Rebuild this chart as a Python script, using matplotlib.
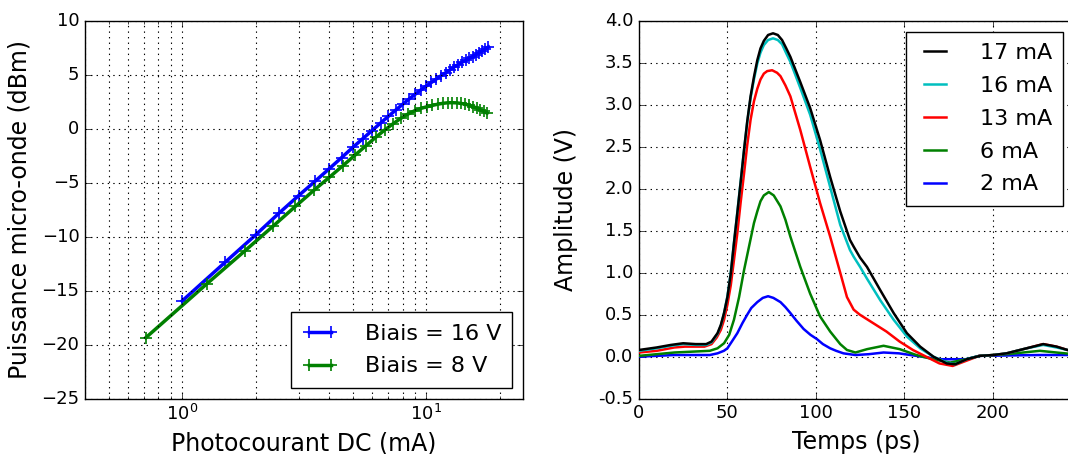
import matplotlib
matplotlib.use("Agg")
from matplotlib import pyplot as plt
from matplotlib.ticker import NullFormatter, FormatStrFormatter

# --- left panel: microwave power vs DC photocurrent ---
i_16v = [1.0, 1.5, 2.0, 2.5, 3.0, 3.5, 4.0, 4.5, 5.0, 5.5, 6.0, 6.5, 7.0, 7.5,
         8.0, 8.5, 9.0, 9.5, 10.0, 10.5, 11.0, 11.5, 12.0, 12.5, 13.0, 13.5,
         14.0, 14.5, 15.0, 15.5, 16.0, 16.5, 17.0, 17.5, 18.0]
p_16v = [-15.95, -12.37, -9.84, -7.80, -6.20, -4.88, -3.72, -2.68, -1.74, -0.92,
         -0.17, 0.52, 1.15, 1.72, 2.25, 2.74, 3.18, 3.58, 3.95, 4.28, 4.60, 4.90,
         5.18, 5.45, 5.70, 5.94, 6.14, 6.32, 6.50, 6.68, 6.86, 7.05, 7.22, 7.40,
         7.58]

i_8v = [0.71, 1.26, 1.81, 2.36, 2.91, 3.46, 4.01, 4.56, 5.11, 5.66, 6.21, 6.76,
        7.31, 7.86, 8.41, 8.96, 9.51, 10.06, 10.61, 11.16, 11.71, 12.26, 12.81,
        13.36, 13.91, 14.46, 15.01, 15.56, 16.11, 16.66, 17.21, 17.76]
p_8v = [-19.35, -14.38, -11.30, -9.02, -7.20, -5.72, -4.50, -3.42, -2.45, -1.58,
        -0.80, -0.12, 0.45, 0.95, 1.35, 1.66, 1.88, 2.03, 2.16, 2.27, 2.35, 2.40,
        2.41, 2.39, 2.34, 2.27, 2.17, 2.05, 1.91, 1.76, 1.60, 1.44]

bias_labels = ["Biais = 16 V", "Biais = 8 V"]

# --- right panel: pulse amplitude vs time ---
t_17 = [0, 10, 18, 25, 32, 38, 41, 44.4, 46.3, 48.1, 50, 51.9, 53.7, 55.6, 57.5,
        59.4, 61.2, 63.1, 65, 66.9, 68.7, 70.6, 73, 75.8, 78.5, 80.9, 83.3, 85.6,
        91.2, 96.8, 102.4, 108.1, 113.8, 119.3, 121.4, 125, 128.9, 136.5, 144,
        151.5, 159, 166.5, 174, 178.8, 185.3, 192.9, 200.4, 207.9, 219.2, 228.6,
        236.1, 242.3, 246]
v_17 = [0.08, 0.11, 0.14, 0.16, 0.15, 0.15, 0.18, 0.28, 0.38, 0.52, 0.71, 0.99,
        1.35, 1.71, 2.08, 2.46, 2.80, 3.10, 3.33, 3.53, 3.67, 3.76, 3.83, 3.85,
        3.83, 3.77, 3.67, 3.57, 3.27, 2.96, 2.58, 2.14, 1.73, 1.39, 1.31, 1.18,
        1.07, 0.79, 0.52, 0.28, 0.12, 0.0, -0.08, -0.09, -0.03, 0.01, 0.02, 0.04,
        0.10, 0.15, 0.12, 0.08, 0.07]

t_16 = t_17
v_16 = [0.07, 0.10, 0.13, 0.15, 0.14, 0.14, 0.17, 0.27, 0.37, 0.52, 0.72, 1.00,
        1.36, 1.72, 2.09, 2.46, 2.79, 3.08, 3.30, 3.49, 3.62, 3.71, 3.77, 3.79,
        3.77, 3.72, 3.61, 3.51, 3.20, 2.88, 2.47, 2.02, 1.57, 1.27, 1.19, 1.07,
        0.93, 0.67, 0.44, 0.24, 0.10, 0.0, -0.07, -0.09, -0.03, 0.01, 0.02, 0.04,
        0.10, 0.14, 0.11, 0.08, 0.07]

t_13 = [0, 10, 20, 26, 32, 37, 41, 44, 46.3, 48.1, 50, 51.9, 53.7, 55.6, 57.5,
        59.4, 61.2, 63.1, 65, 66.9, 68.7, 70.6, 72.5, 75.3, 78.1, 80, 82.8, 85.6,
        91.2, 96.8, 102.4, 108.1, 113.8, 117.6, 121.4, 124.9, 132.4, 139.9, 147.4,
        154.9, 162.4, 169.9, 177.4, 184.9, 192.4, 200.4, 207.9, 219.2, 228.6,
        236.1, 242.3, 246]
v_13 = [0.05, 0.07, 0.11, 0.12, 0.12, 0.12, 0.15, 0.23, 0.32, 0.44, 0.62, 0.85,
        1.15, 1.47, 1.84, 2.18, 2.52, 2.82, 3.04, 3.19, 3.30, 3.37, 3.40, 3.41,
        3.38, 3.34, 3.23, 3.10, 2.70, 2.26, 1.83, 1.43, 1.00, 0.71, 0.56, 0.50,
        0.40, 0.30, 0.18, 0.08, 0.0, -0.08, -0.11, -0.05, 0.01, 0.02, 0.04, 0.10,
        0.15, 0.12, 0.08, 0.07]

t_6 = [0, 10, 20, 30, 40, 44.4, 48.1, 51, 53.7, 56.6, 59.4, 62.2, 65, 66.9,
       68.7, 70.6, 73.4, 76.2, 80, 82.8, 85.6, 91.2, 96.8, 102.4, 108.1, 113.8,
       117.6, 122.4, 129, 138.3, 147.4, 156.8, 166.2, 176, 185, 192.4, 207.9,
       226.7, 236, 246]
v_6 = [0.01, 0.03, 0.05, 0.06, 0.07, 0.10, 0.16, 0.26, 0.44, 0.71, 1.03, 1.31,
       1.59, 1.73, 1.85, 1.92, 1.96, 1.92, 1.79, 1.63, 1.43, 1.07, 0.75, 0.48,
       0.30, 0.15, 0.08, 0.05, 0.09, 0.13, 0.09, 0.02, -0.03, -0.07, -0.03, 0.01,
       0.03, 0.07, 0.05, 0.03]

t_2 = [0, 20, 40, 44.4, 48, 50, 52.5, 55.6, 58.5, 61.2, 63.5, 66.9, 70, 73, 76,
       80, 82.8, 85.6, 89, 93.1, 97, 100.6, 104, 108.1, 111.5, 115.6, 122.4, 130,
       138.3, 147, 156.8, 169.9, 177, 184.9, 192.4, 226.7, 246]
v_2 = [0.0, 0.02, 0.02, 0.04, 0.07, 0.10, 0.18, 0.28, 0.40, 0.50, 0.58, 0.65,
       0.70, 0.72, 0.70, 0.65, 0.59, 0.52, 0.43, 0.33, 0.26, 0.21, 0.15, 0.10,
       0.07, 0.04, 0.02, 0.03, 0.05, 0.04, 0.01, -0.03, -0.03, -0.03, 0.01, 0.02,
       0.02]

pulse_labels = ["17 mA", "16 mA", "13 mA", "6 mA", "2 mA"]
pulse_colors = ["k", "c", "r", "g", "b"]

plt.style.use("classic")
plt.rcParams["font.family"] = ["DejaVu Sans"]
plt.rcParams["mathtext.fontset"] = "dejavusans"

W, H = 1068, 454
fig = plt.figure(figsize=(W / 100, H / 100), dpi=100, facecolor="w")

# axes placed in pixel units of the reference
top, bottom = 20.7, 398.7
ax1 = fig.add_axes([85 / W, 1 - bottom / H, (523.3 - 85) / W, (bottom - top) / H])
ax2 = fig.add_axes([639 / W, 1 - bottom / H, (1074 - 639) / W, (bottom - top) / H])
axh = bottom - top

leg_kw = dict(fontsize=16, handlelength=1.6, handletextpad=1.2,
              labelspacing=0.58, borderpad=0.5)

# left panel
ax1.semilogx(i_16v, p_16v, "b-", marker="+", lw=2.5, ms=8, mew=1.2, label=bias_labels[0])
ax1.semilogx(i_8v, p_8v, "g-", marker="+", lw=2.5, ms=8, mew=1.2, label=bias_labels[1])
ax1.set_xlim(0.4, 25)
ax1.set_ylim(-25, 10)
ax1.set_yticks(range(-25, 11, 5))
ax1.xaxis.set_minor_formatter(NullFormatter())
ax1.grid(True, which="both", color="k", linestyle=":", linewidth=0.8)
ax1.set_xlabel("Photocourant DC (mA)", fontsize=17)
ax1.set_ylabel("Puissance micro-onde (dBm)", fontsize=17)
ax1.xaxis.set_label_coords(0.5, -(431.5 - bottom) / axh)
ax1.yaxis.set_label_coords(-(85 - 31) / (523.3 - 85), 0.5)
ax1.tick_params(labelsize=13)
ax1.legend(loc="lower right", numpoints=2, **leg_kw)

# right panel
series = [(t_17, v_17), (t_16, v_16), (t_13, v_13), (t_6, v_6), (t_2, v_2)]
handles = []
for k, ((t, v), lab, col) in enumerate(zip(series, pulse_labels, pulse_colors)):
    h, = ax2.plot(t, v, color=col, lw=1.8, label=lab, zorder=10 - k)
    handles.append(h)
ax2.set_xlim(0, 246)
ax2.set_ylim(-0.5, 4.0)
ax2.set_xticks([0, 50, 100, 150, 200])
ax2.set_yticks([-0.5, 0.0, 0.5, 1.0, 1.5, 2.0, 2.5, 3.0, 3.5, 4.0])
ax2.yaxis.set_major_formatter(FormatStrFormatter("%.1f"))
ax2.grid(True, color="k", linestyle=":", linewidth=0.8)
ax2.set_xlabel("Temps (ps)", fontsize=17)
ax2.set_ylabel("Amplitude (V)", fontsize=17)
ax2.xaxis.set_label_coords(0.5, -(430 - bottom) / axh)
ax2.yaxis.set_label_coords(-(639 - 578.3) / (1074 - 639), 0.5)
ax2.tick_params(labelsize=13)
ax2.legend(handles=handles, loc="upper right", **leg_kw)

fig.savefig("out.png", dpi=100, facecolor="w")
